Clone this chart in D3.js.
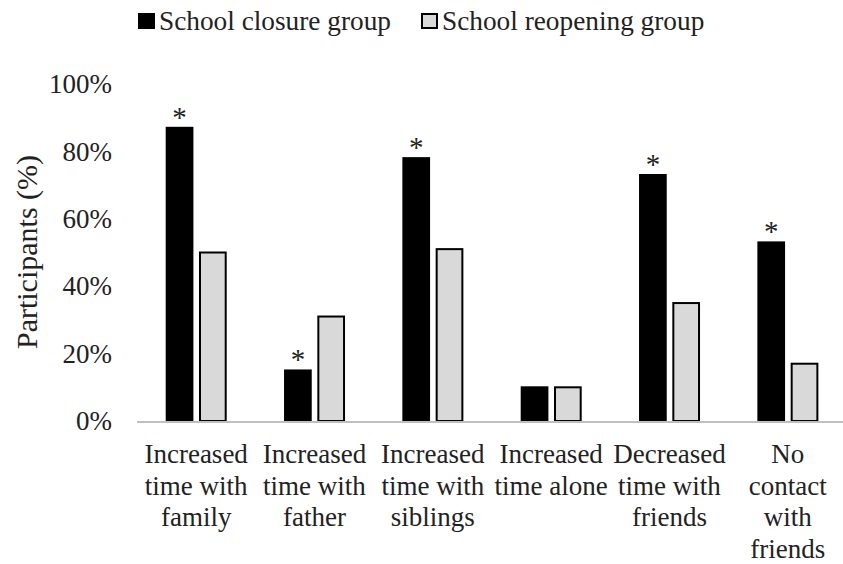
<!DOCTYPE html>
<html>
<head>
<meta charset="utf-8">
<script src="https://cdn.jsdelivr.net/npm/d3@7"></script>
<style>
  body { margin: 0; background: #fff; }
</style>
</head>
<body>
<div id="chart"></div>
<script>
let width = 843,
    height = 564

let categories = ["family", "father", "siblings", "alone", "friendsDecreased", "noContact"]
let categoryLabels = [
  ["Increased", "time with", "family"],
  ["Increased", "time with", "father"],
  ["Increased", "time with", "siblings"],
  ["Increased", "time alone"],
  ["Decreased", "time with", "friends"],
  ["No", "contact", "with", "friends"]
]
let series = ["School closure group", "School reopening group"]
let closure = [87, 15, 78, 10, 73, 53]
let reopening = [50, 31, 51, 10, 35, 17]
let significant = [true, true, true, false, true, true]
let yTicks = [0, 20, 40, 60, 80, 100]

let colors = ["#000000", "#d9d9d9"]

let svg = d3.select("#chart")
  .append("svg")
    .attr("width", width)
    .attr("height", height)
    .attr("font-family", "Liberation Serif")
    .attr("fill", "#222")

let x0 = d3.scaleBand()
  .domain(categories)
  .range([137, 847])
  .padding(0)

let x1 = d3.scaleBand()
  .domain(series)
  .range([29.7, 88.7])
  .paddingInner(0.228)
  .paddingOuter(0)

let y = d3.scaleLinear()
  .domain([0, 100])
  .range([421, 84])

// y axis labels only, no ticks or line
let yAxis = svg.append("g")
  .attr("transform", "translate(137,0)")
  .call(d3.axisLeft(y).tickValues(yTicks).tickSize(0).tickPadding(25).tickFormat(d => d + "%"))
yAxis.attr("font-family", null).attr("font-size", 27)
yAxis.select(".domain").remove()
yAxis.selectAll("text").attr("fill", "#222")

svg.append("text")
  .attr("transform", "translate(37,252) rotate(-90)")
  .attr("text-anchor", "middle")
  .attr("font-size", 30)
  .text("Participants (%)")

// bars
let rows = categories.map((c, i) => ({cat: c, vals: [closure[i], reopening[i]], sig: significant[i], label: categoryLabels[i]}))

let groups = svg.selectAll("g.grp")
  .data(rows)
  .enter()
  .append("g")
    .attr("class", "grp")
    .attr("transform", d => `translate(${x0(d.cat)},0)`)

groups.selectAll("rect")
  .data(d => d.vals.map((v, j) => ({s: series[j], v: v, j: j})))
  .enter()
  .append("rect")
    .attr("x", d => x1(d.s))
    .attr("y", d => y(d.v))
    .attr("width", x1.bandwidth())
    .attr("height", d => y(0) - y(d.v))
    .attr("fill", d => colors[d.j])
    .attr("stroke", "#000")
    .attr("stroke-width", 2)

// significance marks
groups.filter(d => d.sig)
  .append("text")
    .attr("x", x1(series[0]) + x1.bandwidth() / 2)
    .attr("y", d => y(d.vals[0]) - 1)
    .attr("text-anchor", "middle")
    .attr("font-size", 29)
    .text("*")

// x axis line
svg.append("line")
  .attr("x1", x0.range()[0])
  .attr("x2", x0.range()[1])
  .attr("y1", y(0) + 1)
  .attr("y2", y(0) + 1)
  .attr("stroke", "#bfbfbf")
  .attr("stroke-width", 2)

// category labels
groups.append("text")
  .attr("text-anchor", "middle")
  .attr("font-size", 27)
  .selectAll("tspan")
  .data(d => d.label)
  .enter()
  .append("tspan")
    .attr("x", x0.bandwidth() / 2)
    .attr("y", (d, i) => 463 + i * 31.5)
    .text(d => d)

// legend
let legendX = [139, 422]
let legend = svg.append("g")
legend.selectAll("rect")
  .data(series)
  .enter()
  .append("rect")
    .attr("x", (d, i) => legendX[i])
    .attr("y", 14)
    .attr("width", 15)
    .attr("height", 14)
    .attr("fill", (d, i) => colors[i])
    .attr("stroke", "#000")
    .attr("stroke-width", 2)
legend.selectAll("text")
  .data(series)
  .enter()
  .append("text")
    .attr("x", (d, i) => legendX[i] + 20)
    .attr("y", 30)
    .attr("font-size", 27.3)
    .text(d => d)
</script>
</body>
</html>
